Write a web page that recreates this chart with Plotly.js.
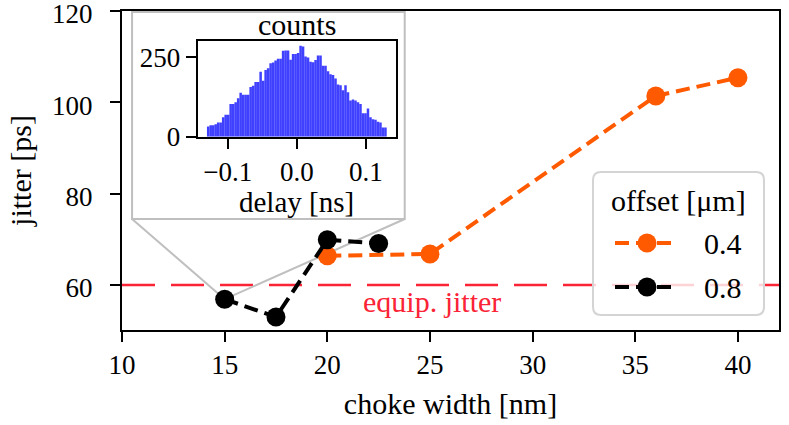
<!DOCTYPE html>
<html>
<head>
<meta charset="utf-8">
<script src="https://cdn.plot.ly/plotly-3.0.1.min.js"></script>
<style>html,body{margin:0;padding:0;background:#fff;}#plot{width:789px;height:425px;}</style>
</head>
<body>
<div id="plot"></div>
<script>
// ---- data ----
const widths04 = [20, 25, 36, 40];
const jitter04 = [66.4, 66.8, 101.4, 105.4];
const widths08 = [15, 17.5, 20, 22.5];
const jitter08 = [56.9, 53.0, 69.9, 69.1];
const legendNames = ['0.4', '0.8'];
const legendTitle = 'offset [μm]';
const equipJitter = 60;
const xTicks = [10, 15, 20, 25, 30, 35, 40];
const yTicks = [60, 80, 100, 120];
const insetXTicks = [-0.1, 0.0, 0.1];
const insetYTicks = [0, 250];
const histStart = -0.13;
const histEnd = 0.13;
const histCounts = [32, 36, 36, 39, 45, 45, 61, 69, 69, 103, 103, 108, 121, 138, 132, 132, 132, 156, 160, 172,
  172, 204, 176, 210, 215, 231, 233, 240, 245, 245, 270, 271, 271, 242, 260, 260, 263, 286, 284, 252,
  249, 236, 234, 241, 255, 255, 223, 223, 206, 196, 194, 183, 164, 162, 146, 162, 140, 114, 117, 114,
  108, 103, 74, 74, 89, 61, 55, 53, 47, 45, 29, 29];

const binW = (histEnd - histStart) / histCounts.length;
const binCenters = histCounts.map((_, i) => histStart + binW * (i + 0.5));

const FONT = '"Liberation Serif", "DejaVu Serif", serif';
const FS = 27;   // tick labels
const FT = 30;   // titles / text
const ORANGE = '#ff5a00';
const RED = '#fb2336';
const DASH = '14px,7px';

// plot-area geometry (px) for placing the hand-drawn legend and inset labels
const PL = 122, PR = 779, PT = 11, PB = 330;
const px2x = p => (p - PL) / (PR - PL);
const py2y = p => (PB - p) / (PB - PT);

const traces = [
  {x: widths04, y: jitter04, name: legendNames[0], type: 'scatter', mode: 'lines+markers', showlegend: false,
   line: {color: ORANGE, width: 4, dash: DASH}, marker: {color: ORANGE, size: 19}},
  {x: widths08, y: jitter08, name: legendNames[1], type: 'scatter', mode: 'lines+markers', showlegend: false,
   line: {color: '#000000', width: 4, dash: DASH}, marker: {color: '#000000', size: 19}},
  {x: binCenters, y: histCounts, type: 'bar', width: binW, xaxis: 'x2', yaxis: 'y2', showlegend: false,
   marker: {color: 'rgba(0,0,255,0.75)', line: {width: 0}}, hoverinfo: 'skip'}
];

const xr = [10, 42], yr = [50.15, 120];
const boxX0 = 10.49, boxX1 = 23.77, boxYb = 74.45;

const axisCommon = {showline: true, linecolor: '#000', linewidth: 2, mirror: true, ticks: 'outside',
  ticklen: 10, tickwidth: 2, tickcolor: '#000', showgrid: false, zeroline: false, ticklabeloverflow: 'allow',
  tickfont: {family: FONT, size: FS, color: '#000'}};

// legend box (rounded)
const LB = {l: 593, r: 764, t: 172, b: 315, rad: 8};
function roundRect(b) {
  const x0 = px2x(b.l), x1 = px2x(b.r), y0 = py2y(b.b), y1 = py2y(b.t);
  const rx = b.rad / (PR - PL), ry = b.rad / (PB - PT);
  return `M${x0 + rx},${y1} L${x1 - rx},${y1} Q${x1},${y1} ${x1},${y1 - ry} L${x1},${y0 + ry} Q${x1},${y0} ${x1 - rx},${y0} ` +
         `L${x0 + rx},${y0} Q${x0},${y0} ${x0},${y0 + ry} L${x0},${y1 - ry} Q${x0},${y1} ${x0 + rx},${y1} Z`;
}
const legendRows = [{y: 243, color: ORANGE, name: legendNames[0]}, {y: 287, color: '#000000', name: legendNames[1]}];

const insetDomX = [0.1152, 0.4170], insetDomY = [0.606, 0.907];

const shapes = [
  {type: 'rect', xref: 'x', yref: 'paper', x0: boxX0, x1: boxX1, y0: 0.348, y1: 0.997,
   fillcolor: '#ffffff', line: {color: '#bfbfbf', width: 2}, layer: 'below'},
  {type: 'line', xref: 'x', yref: 'y', x0: boxX0, y0: boxYb, x1: widths08[0], y1: jitter08[0],
   line: {color: '#bfbfbf', width: 2}, layer: 'below'},
  {type: 'line', xref: 'x', yref: 'y', x0: boxX1, y0: boxYb, x1: widths08[0], y1: jitter08[0],
   line: {color: '#bfbfbf', width: 2}, layer: 'below'},
  {type: 'line', xref: 'paper', yref: 'y', x0: 0, x1: 1, y0: equipJitter, y1: equipJitter,
   line: {color: RED, width: 2.5, dash: '33px,16px'}, layer: 'below'},
  {type: 'path', xref: 'paper', yref: 'paper', path: roundRect(LB),
   fillcolor: 'rgba(255,255,255,0.8)', line: {color: '#d4d4d4', width: 2}, layer: 'above'}
];
const annotations = [
  {text: 'equip. jitter', xref: 'x', yref: 'y', x: 25.1, y: 56.3, showarrow: false,
   font: {family: FONT, size: FT, color: RED}},
  {text: 'counts', xref: 'paper', yref: 'paper', x: (insetDomX[0] + insetDomX[1]) / 2, y: insetDomY[1],
   xanchor: 'center', yanchor: 'bottom', yshift: -2, showarrow: false, font: {family: FONT, size: FT}},
  {text: 'delay [ns]', xref: 'paper', yref: 'paper', x: (insetDomX[0] + insetDomX[1]) / 2, y: py2y(202),
   xanchor: 'center', yanchor: 'middle', showarrow: false, font: {family: FONT, size: 29}},
  {text: legendTitle, xref: 'paper', yref: 'paper', x: px2x(678), y: py2y(200), xanchor: 'center', yanchor: 'middle',
   showarrow: false, font: {family: FONT, size: FT}}
];
legendRows.forEach(r => {
  shapes.push({type: 'line', xref: 'paper', yref: 'paper', x0: px2x(615), x1: px2x(678), y0: py2y(r.y), y1: py2y(r.y),
    line: {color: r.color, width: 4, dash: DASH}, layer: 'above'});
  shapes.push({type: 'circle', xref: 'paper', yref: 'paper', xsizemode: 'pixel', ysizemode: 'pixel',
    xanchor: px2x(647), yanchor: py2y(r.y), x0: -9.5, x1: 9.5, y0: -9.5, y1: 9.5,
    fillcolor: r.color, line: {width: 0}, layer: 'above'});
  annotations.push({text: r.name, xref: 'paper', yref: 'paper', x: px2x(702), y: py2y(r.y), xanchor: 'left',
    yanchor: 'middle', showarrow: false, font: {family: FONT, size: FT}});
});

const layout = {
  width: 789, height: 425,
  margin: {l: PL, r: 789 - PR, t: PT, b: 425 - PB},
  paper_bgcolor: '#fff', plot_bgcolor: 'rgba(0,0,0,0)',
  font: {family: FONT, size: FS, color: '#000'},
  showlegend: false,
  xaxis: Object.assign({}, axisCommon, {range: xr, tickvals: xTicks,
    title: {text: 'choke width [nm]', font: {family: FONT, size: FT}, standoff: 14}}),
  yaxis: Object.assign({}, axisCommon, {range: yr, tickvals: yTicks, ticklabelstandoff: 12, ticklabelshift: 3,
    title: {text: 'jitter [ps]', font: {family: FONT, size: FT}, standoff: 12}}),
  xaxis2: Object.assign({}, axisCommon, {domain: insetDomX, anchor: 'y2', range: [-0.1434, 0.1434],
    tickvals: insetXTicks, tickformat: '.1f'}),
  yaxis2: Object.assign({}, axisCommon, {domain: insetDomY, anchor: 'x2', range: [0, 302],
    tickvals: insetYTicks}),
  shapes: shapes,
  annotations: annotations
};

Plotly.newPlot('plot', traces, layout, {displayModeBar: false, staticPlot: true});
</script>
</body>
</html>
